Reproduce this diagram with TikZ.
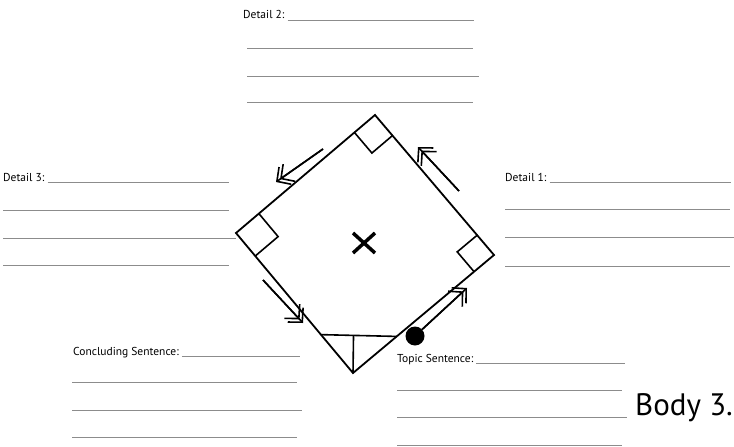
\documentclass[tikz,border=0pt]{standalone}
\usepackage{fontspec}
\setmainfont{PT Sans}
\usetikzlibrary{arrows.meta, calc}
\definecolor{RuleGray}{RGB}{140,140,140}

%% small square "base" at a corner of the diamond
\newcommand{\cornerbase}[4]{%
  \draw[basebox] ($(#1)!#4!(#2)$) -- ($(#1)!#4!(#2) + (#1)!#4!(#3) - (#1)$) -- ($(#1)!#4!(#3)$);}

\begin{document}
\begin{tikzpicture}[
  x=1pt, y=-1pt,
  every node/.style={font=\fontsize{11.5}{13}\selectfont, inner sep=0pt, anchor=base west},
  field/.style={draw=RuleGray, line width=0.9pt},
  diamondline/.style={line width=1.8pt, line join=miter},
  basebox/.style={line width=1.6pt},
  barb/.style={-{Straight Barb[length=10pt,width=21pt]}},
  runarr/.style={line width=1.6pt, barb,
                 postaction={draw, barb, shorten >=5pt}}
]
  \useasboundingbox (0,0) rectangle (734,447);

  %% Diamond and bases
  \coordinate (T) at (375,115);
  \coordinate (R) at (494,255);
  \coordinate (B) at (353,373);
  \coordinate (L) at (236,233);
  \draw[diamondline] (T) -- (R) -- (B) -- (L) -- cycle;

  \cornerbase{T}{R}{L}{27pt}
  \cornerbase{L}{T}{B}{30pt}
  \cornerbase{R}{T}{B}{26pt}

  \coordinate (pl) at ($(B)!50pt!(L)$);
  \coordinate (pr) at ($(B)!57pt!(R)$);
  \draw[basebox] (pl) -- (pr);
  \draw[basebox] (B) -- ($(pl)!0.43!(pr)$);

  %% Mound
  \coordinate (mid) at (364,243);
  \draw[line width=3.5pt] ($(mid)+(-11,-10)$) -- ($(mid)+(11,10)$);
  \draw[line width=3.5pt] ($(mid)+(-11,10)$) -- ($(mid)+(11,-10)$);

  %% Running arrows
  \node[circle, fill, minimum size=19pt, anchor=center] (dot) at (415,336) {};
  \coordinate (a4e) at (467,288);
  \coordinate (a2s) at (459,191);
  \coordinate (a2e) at (418,147);
  \coordinate (a1s) at (323,149);
  \coordinate (a1e) at (276,182);
  \coordinate (a3s) at (263,280);
  \coordinate (a3e) at (303,323);
  \draw[runarr] (dot) -- (a4e);
  \draw[runarr] (a2s) -- (a2e);
  \draw[runarr] (a1s) -- (a1e);
  \draw[runarr] (a3s) -- (a3e);

  %% Detail 2 (top)
  \node (det2) at (243,19) {Detail 2:};
  \draw[field] ([xshift=3pt,yshift=-1.5pt]det2.base east) -- (474,20.5);
  \draw[field] (247,48) -- (473,48);
  \draw[field] (247,76) -- (479,76);
  \draw[field] (247,102) -- (473,102);

  %% Detail 3 (left)
  \node (det3) at (3,181) {Detail 3:};
  \draw[field] ([xshift=3pt,yshift=-1.5pt]det3.base east) -- (229,182.5);
  \draw[field] (3,210) -- (229,210);
  \draw[field] (3,238) -- (236,238);
  \draw[field] (3,265) -- (229,265);

  %% Detail 1 (right)
  \node (det1) at (505,181) {Detail 1:};
  \draw[field] ([xshift=3pt,yshift=-1.5pt]det1.base east) -- (731,182.5);
  \draw[field] (505,209) -- (730,209);
  \draw[field] (505,237) -- (734,237);
  \draw[field] (505,266) -- (730,266);

  %% Concluding sentence
  \node (concl) at (73,355) {Concluding Sentence:};
  \draw[field] ([xshift=3pt,yshift=-1.5pt]concl.base east) -- (300,356.5);
  \draw[field] (72,382) -- (297,382);
  \draw[field] (72,410) -- (302,410);
  \draw[field] (72,437) -- (297,437);

  %% Topic sentence
  \node (topic) at (397,362) {Topic Sentence:};
  \draw[field] ([xshift=3pt,yshift=-1.5pt]topic.base east) -- (625,363.5);
  \draw[field] (397,390) -- (622,390);
  \draw[field] (397,417) -- (627,417);
  \draw[field] (397,445) -- (622,445);

  \node[font=\fontsize{31}{34}\selectfont] (body) at (635,415) {Body 3.};
\end{tikzpicture}
\end{document}
